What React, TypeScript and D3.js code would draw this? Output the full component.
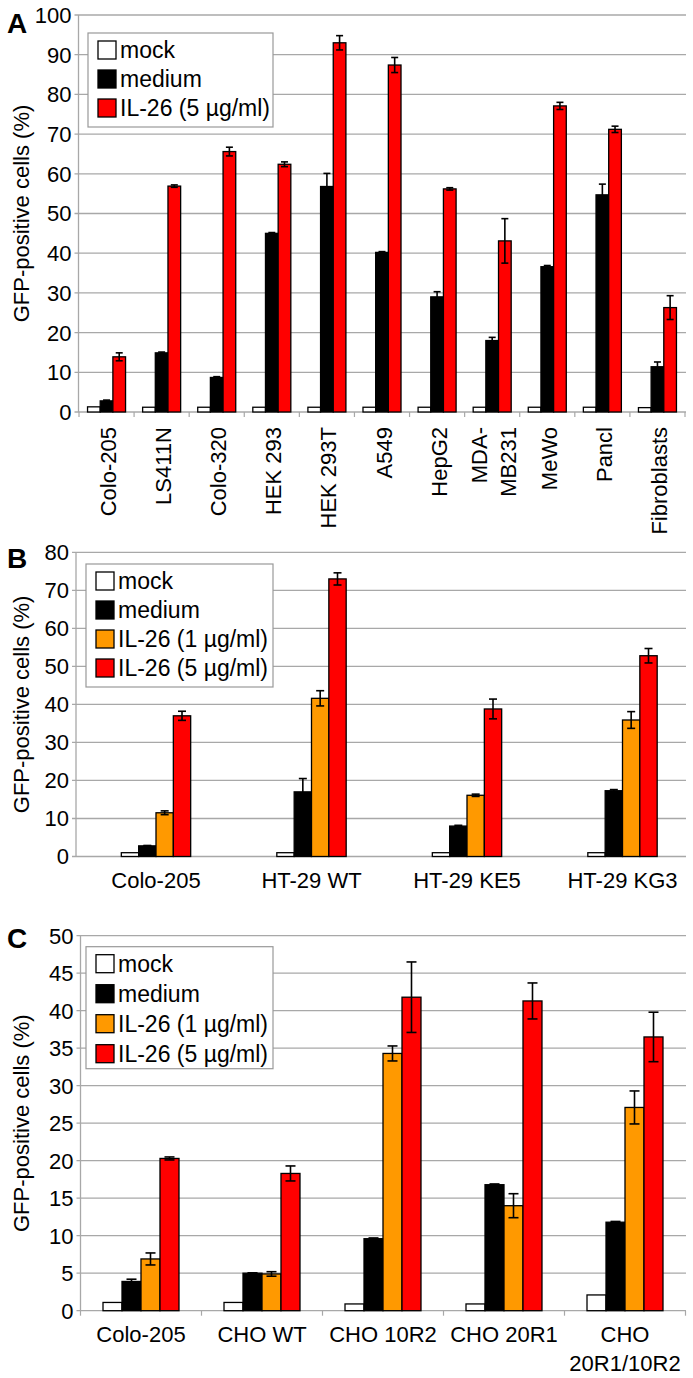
import React from 'react';
import * as d3 from 'd3';

// ---- panel A data ----
const catsA = ['Colo-205', 'LS411N', 'Colo-320', 'HEK 293', 'HEK 293T', 'A549', 'HepG2', 'MDA-\nMB231', 'MeWo', 'Pancl', 'Fibroblasts'];
const mockA = [1.3, 1.2, 1.2, 1.2, 1.2, 1.2, 1.2, 1.2, 1.2, 1.2, 1.1];
const mediumA = [2.8, 14.9, 8.7, 45.0, 56.8, 40.2, 29.0, 18.0, 36.6, 54.7, 11.4];
const mediumErrA = [0.2, 0.2, 0.2, 0.2, 3.3, 0.2, 1.3, 0.8, 0.3, 2.7, 1.2];
const il5A = [13.9, 56.9, 65.6, 62.4, 93.0, 87.4, 56.2, 43.1, 77.1, 71.2, 26.3];
const il5ErrA = [1.0, 0.3, 1.1, 0.6, 1.8, 1.9, 0.3, 5.6, 0.9, 0.8, 3.0];

// ---- panel B data ----
const catsB = ['Colo-205', 'HT-29 WT', 'HT-29 KE5', 'HT-29 KG3'];
const mockB = [1.0, 1.0, 1.0, 1.0];
const mediumB = [2.8, 17.0, 8.0, 17.3];
const mediumErrB = [0.1, 3.5, 0.2, 0.3];
const il1B = [11.5, 41.6, 16.1, 35.9];
const il1ErrB = [0.5, 2.0, 0.3, 2.2];
const il5B = [37.0, 73.0, 38.8, 52.8];
const il5ErrB = [1.2, 1.6, 2.6, 1.9];

// ---- panel C data ----
const catsC = ['Colo-205', 'CHO WT', 'CHO 10R2', 'CHO 20R1', 'CHO\n20R1/10R2'];
const mockC = [1.1, 1.1, 0.9, 0.9, 2.1];
const mediumC = [3.9, 5.0, 9.6, 16.8, 11.8];
const mediumErrC = [0.3, 0.05, 0.1, 0.1, 0.1];
const il1C = [6.9, 4.9, 34.3, 14.0, 27.1];
const il1ErrC = [0.8, 0.3, 1.0, 1.6, 2.2];
const il5C = [20.3, 18.3, 41.8, 41.3, 36.5];
const il5ErrC = [0.2, 1.0, 4.7, 2.4, 3.3];

const FONT = '"Liberation Sans", Arial, Helvetica, sans-serif';
const GRID = '#a8a8a8';

type Series = { name: string; color: string; values: number[]; errors?: number[] };

const seriesA: Series[] = [
  { name: 'mock', color: '#ffffff', values: mockA },
  { name: 'medium', color: '#000000', values: mediumA, errors: mediumErrA },
  { name: 'IL-26 (5 µg/ml)', color: '#ff0000', values: il5A, errors: il5ErrA },
];
const seriesB: Series[] = [
  { name: 'mock', color: '#ffffff', values: mockB },
  { name: 'medium', color: '#000000', values: mediumB, errors: mediumErrB },
  { name: 'IL-26 (1 µg/ml)', color: '#ff9900', values: il1B, errors: il1ErrB },
  { name: 'IL-26 (5 µg/ml)', color: '#ff0000', values: il5B, errors: il5ErrB },
];
const seriesC: Series[] = [
  { name: 'mock', color: '#ffffff', values: mockC },
  { name: 'medium', color: '#000000', values: mediumC, errors: mediumErrC },
  { name: 'IL-26 (1 µg/ml)', color: '#ff9900', values: il1C, errors: il1ErrC },
  { name: 'IL-26 (5 µg/ml)', color: '#ff0000', values: il5C, errors: il5ErrC },
];

type PanelProps = {
  letter: string;
  letterY: number;
  top: number;
  bottom: number;
  yMax: number;
  step: number;
  axisX: number;
  gridRight: number;
  band: [number, number];
  groupFrac: number;
  capW: number;
  categories: string[];
  series: Series[];
  legend: { x: number; y: number; w: number; h: number; row: number };
  rotated?: boolean;
  labelY: number;
  xTicks?: boolean;
};

function Panel(p: PanelProps) {
  const y = d3.scaleLinear().domain([0, p.yMax]).range([p.bottom, p.top]);
  const x = d3.scaleBand<string>().domain(p.categories).range(p.band).paddingInner(0).paddingOuter(0);
  const groupW = x.bandwidth() * p.groupFrac;
  const xs = d3.scaleBand<string>().domain(p.series.map(s => s.name)).range([-groupW / 2, groupW / 2]);
  const ticks = d3.range(0, p.yMax + p.step / 2, p.step);
  const midY = (p.top + p.bottom) / 2;

  return (
    <g>
      <text x={7} y={p.letterY} fontSize={28} fontWeight="bold" fontFamily={FONT}>{p.letter}</text>
      {ticks.map(t => (
        <g key={t}>
          <line x1={p.axisX - 4} x2={p.gridRight} y1={y(t)} y2={y(t)} stroke={GRID} strokeWidth={1.3} />
          <text x={p.axisX - 7} y={y(t)} dy="0.36em" textAnchor="end" fontSize={22} fontFamily={FONT}>{t}</text>
        </g>
      ))}
      <line x1={p.axisX} x2={p.axisX} y1={p.top} y2={p.bottom} stroke={GRID} strokeWidth={1.3} />
      {p.xTicks && d3.range(p.categories.length + 1).map(i => {
        const tx = p.band[0] + i * x.step();
        return <line key={i} x1={tx} x2={tx} y1={p.bottom} y2={p.bottom + 5} stroke={GRID} strokeWidth={1.2} />;
      })}
      <text transform={`translate(29,${midY}) rotate(-90)`} textAnchor="middle" fontSize={22} fontFamily={FONT}>GFP-positive cells (%)</text>

      {p.categories.map((c, i) => {
        const cx = (x(c) as number) + x.bandwidth() / 2;
        return (
          <g key={c}>
            {p.series.map(s => {
              const v = s.values[i];
              const bx = cx + (xs(s.name) as number);
              const e = s.errors ? s.errors[i] : 0;
              const mx = bx + xs.bandwidth() / 2;
              return (
                <g key={s.name}>
                  <rect x={bx} y={y(v)} width={xs.bandwidth()} height={p.bottom - y(v)} fill={s.color} stroke="#000" strokeWidth={1.3} />
                  {e > 0 && (
                    <g stroke="#000" strokeWidth={1.6}>
                      <line x1={mx} x2={mx} y1={y(v + e)} y2={y(v - e)} />
                      <line x1={mx - p.capW / 2} x2={mx + p.capW / 2} y1={y(v + e)} y2={y(v + e)} />
                      <line x1={mx - p.capW / 2} x2={mx + p.capW / 2} y1={y(v - e)} y2={y(v - e)} />
                    </g>
                  )}
                </g>
              );
            })}
            {p.rotated
              ? c.split('\n').map((ln, j, arr) => (
                  <text key={j} transform={`translate(${cx + 9.5 + (j - (arr.length - 1) / 2) * 28.5},${p.labelY}) rotate(-90)`}
                    textAnchor="end" fontSize={22} fontFamily={FONT}>{ln}</text>
                ))
              : c.split('\n').map((ln, j) => (
                  <text key={j} x={cx} y={p.labelY + j * 28.5} textAnchor="middle" fontSize={22} fontFamily={FONT}>{ln}</text>
                ))}
          </g>
        );
      })}

      <rect x={p.legend.x} y={p.legend.y} width={p.legend.w} height={p.legend.h} fill="#fff" stroke="#999" strokeWidth={1.2} />
      {p.series.map((s, i) => {
        const ry = p.legend.y + 17 + i * p.legend.row;
        return (
          <g key={s.name}>
            <rect x={p.legend.x + 10} y={ry - 9} width={18} height={18} fill={s.color} stroke="#000" strokeWidth={1.3} />
            <text x={p.legend.x + 32} y={ry} dy="0.36em" fontSize={23} fontFamily={FONT}>{s.name}</text>
          </g>
        );
      })}
    </g>
  );
}

export default function App() {
  return (
    <svg width={693} height={1378} style={{ position: 'absolute', left: 0, top: 0, background: '#fff' }}>
      <Panel letter="A" letterY={33} top={15} bottom={412} yMax={100} step={10} axisX={78.5} gridRight={686}
        band={[79, 685]} groupFrac={0.69} capW={7} categories={catsA} series={seriesA}
        legend={{ x: 88, y: 33, w: 185, h: 94, row: 29 }} rotated labelY={427} xTicks />
      <Panel letter="B" letterY={568} top={552.3} bottom={856.5} yMax={80} step={10} axisX={76} gridRight={686}
        band={[78.25, 700.25]} groupFrac={0.446} capW={8} categories={catsB} series={seriesB}
        legend={{ x: 86, y: 564, w: 187, h: 123, row: 29 }} labelY={888} />
      <Panel letter="C" letterY={948} top={935.7} bottom={1310.7} yMax={50} step={5} axisX={80.5} gridRight={686}
        band={[80.5, 685.5]} groupFrac={0.628} capW={10} categories={catsC} series={seriesC}
        legend={{ x: 86, y: 946.7, w: 187, h: 122, row: 30 }} labelY={1342} xTicks />
    </svg>
  );
}
